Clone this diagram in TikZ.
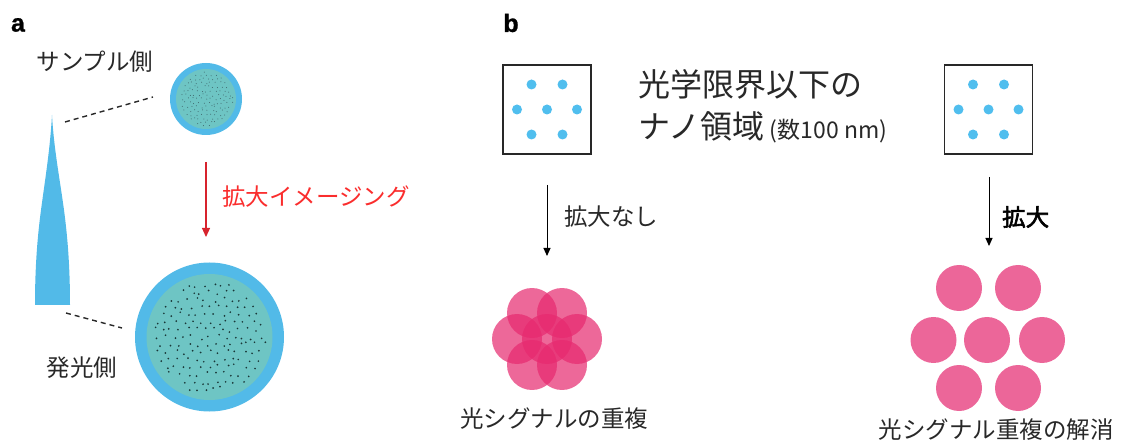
\documentclass[tikz,border=0pt]{standalone}
\usepackage{fontspec}
\setmainfont{Noto Sans CJK JP}
\newfontfamily\cjkbold{Noto Sans CJK JP}[FakeBold=2.5]
\newfontfamily\labelfont{Liberation Sans}[FakeBold=1]
\usetikzlibrary{arrows.meta}

\definecolor{fiberblue}{RGB}{82,186,232}
\definecolor{coregreen}{RGB}{110,197,196}
\definecolor{coredot}{RGB}{25,55,55}
\definecolor{finedot}{RGB}{60,100,105}
\definecolor{dotcyan}{RGB}{80,190,238}
\definecolor{arrowred}{RGB}{215,35,45}
\definecolor{textred}{RGB}{250,45,45}
\definecolor{signalpink}{RGB}{230,40,110}
\definecolor{solidpink}{RGB}{236,102,153}
\definecolor{inkgray}{RGB}{40,40,40}

\tikzset{
  jtext/.style={inner sep=0pt, text=inkgray, font=\fontsize{23.5}{26}\selectfont},
  panel/.style={inner sep=0pt, font=\labelfont\bfseries\fontsize{25}{27}\selectfont},
  fibercircle/.style={circle, fill=fiberblue, inner sep=0pt},
  corecircle/.style={circle, fill=coregreen, inner sep=0pt},
  guide/.style={draw=inkgray, line width=1.4pt, dash pattern=on 5pt off 4pt},
  nanobox/.style={draw=inkgray, line width=1.6pt, minimum width=88pt, minimum height=89pt, inner sep=0pt},
  bluedot/.style={circle, fill=dotcyan, minimum size=10pt, inner sep=0pt},
  blackarrow/.style={draw=black, line width=1pt, -{Triangle[width=7pt,length=8pt]}},
  redarrow/.style={draw=arrowred, line width=1.2pt, -{Triangle[width=8pt,length=9pt]}},
  blended/.style={circle, fill=signalpink, fill opacity=0.7, minimum size=50pt, inner sep=0pt},
  resolved/.style={circle, fill=solidpink, minimum size=46pt, inner sep=0pt},
}

% jittered hexagonal scatter of core dots inside a disc
% #1 centre node, #2 spacing, #3 disc radius, #4 dot radius, #5 colour, #6 half count
\newcommand{\coredots}[6]{%
  \foreach \row in {-#6,...,#6}{
    \foreach \col in {-#6,...,#6}{
      \pgfmathsetmacro\px{(\col + 0.5*mod(abs(\row),2))*#2 + 0.3*#2*rand}
      \pgfmathsetmacro\py{\row*0.866*#2 + 0.3*#2*rand}
      \pgfmathtruncatemacro\inside{(\px*\px+\py*\py < #3*#3) ? 1 : 0}
      \ifnum\inside=1
        \fill[#5] (#1.center) ++(\px,\py) circle (#4);
      \fi
    }
  }%
}

\begin{document}
\begin{tikzpicture}[x=1pt,y=-1pt]
\useasboundingbox (0,0) rectangle (1121,443);

% ---------- panel a ----------
\node[panel] (labela) at (18,25) {a};
\node[jtext] (sampleside) at (95,62) {サンプル側};
\node[jtext] (emitside) at (82,368) {発光側};

% tapered fibre bundle
\fill[fiberblue] (52,115) .. controls (54,150) and (60,180) .. (64,210)
  .. controls (68,240) and (70,270) .. (70,305) -- (35,305)
  .. controls (35,270) and (37,240) .. (41,210)
  .. controls (45,180) and (50,150) .. (52,115) -- cycle;

% small end face
\node[fibercircle, minimum size=72pt] (smallface) at (206,99) {};
\node[corecircle, minimum size=60pt] (smallcore) at (206,99) {};
\pgfmathsetseed{11}
\coredots{smallcore}{4.6}{27}{0.5}{finedot}{7}

% large end face
\node[fibercircle, minimum size=149pt] (bigface) at (209.5,337) {};
\node[corecircle, minimum size=126pt] (bigcore) at (209.5,337) {};
\pgfmathsetseed{5}
\coredots{bigcore}{8.6}{57}{0.95}{coredot}{8}

% guide lines from the fibre ends to the faces
\coordinate (tipend) at (65,122);
\coordinate (tipface) at (153,97);
\coordinate (baseend) at (66,313);
\coordinate (baseface) at (122,328);
\draw[guide] (tipend) -- (tipface);
\draw[guide] (baseend) -- (baseface);

% magnification arrow
\coordinate (redtop) at (206,162);
\coordinate (redbot) at (206,237);
\draw[redarrow] (redtop) -- (redbot);
\node[jtext, text=textred, anchor=west] (magnify) at (222,197) {拡大イメージング};

% ---------- panel b ----------
\node[panel] (labelb) at (511,23) {b};

% nano-region boxes
\foreach \bx/\nm in {547/leftbox, 988.5/rightbox}{
  \node[nanobox] (\nm) at (\bx,109.5) {};
  \foreach \dx/\dy in {-15.5/-25, 15.5/-25, -30/0, 0/0, 30/0, -15.5/25, 15.5/25}
    \node[bluedot] at ([xshift=\dx pt, yshift=-\dy pt]\nm.center) {};
}

\node[jtext, anchor=west, font=\fontsize{32}{34}\selectfont] (lineone) at (638,84) {光学限界以下の};
\node[jtext, anchor=west, font=\fontsize{32}{34}\selectfont] (linetwo) at (638,127)
  {ナノ領域\,{\fontsize{23}{25}\selectfont (数100 nm)}};

% arrows
\coordinate (leftfrom) at (547,185);
\coordinate (leftto) at (547,256);
\coordinate (rightfrom) at (989,177);
\coordinate (rightto) at (989,246);
\draw[blackarrow] (leftfrom) -- (leftto);
\draw[blackarrow] (rightfrom) -- (rightto);
\node[jtext, anchor=west] (nomag) at (564,217) {拡大なし};
\node[jtext, anchor=west, font=\cjkbold\fontsize{23.5}{26}\selectfont, text=black] (withmag) at (1002,217) {拡大};

% overlapping signals
\node[blended] (fc) at (547,339) {};
\foreach \a in {0,60,...,300}
  \node[blended] at ([shift={(\a:30)}]fc.center) {};
\node[jtext] (overlap) at (554,419) {光シグナルの重複};

% resolved signals
\foreach \px/\py in {959/288, 1018/288, 933.5/340, 987/340, 1042/340, 959/388, 1018/388}
  \node[resolved] at (\px,\py) {};
\node[jtext] (resolvedtext) at (996,430) {光シグナル重複の解消};
\end{tikzpicture}
\end{document}
